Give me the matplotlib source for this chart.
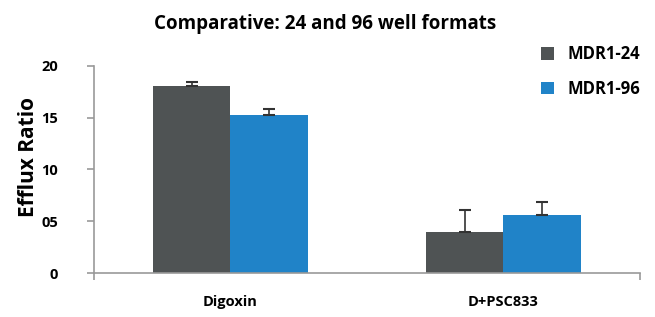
import matplotlib
matplotlib.use("Agg")
import matplotlib.pyplot as plt
import numpy as np

categories = ["Digoxin", "D+PSC833"]
series_names = ["MDR1-24", "MDR1-96"]
mdr1_24 = [18.1, 4.0]
mdr1_96 = [15.3, 5.6]
err_24 = [0.4, 2.1]
err_96 = [0.5, 1.3]
ytick_vals = [0, 5, 10, 15, 20]
ytick_labels = ["0", "05", "10", "15", "20"]

colors = ["#4f5354", "#2083c8"]
plt.rcParams['font.family'] = ['Open Sans', 'DejaVu Sans']
W = 'bold'

fig = plt.figure(figsize=(6.55, 3.17), dpi=100)
ax = fig.add_axes([0.1435, 0.1388, 0.8335, 0.653])

x = np.arange(len(categories))
w = 0.285
ax.bar(x - w/2, mdr1_24, w, color=colors[0], label=series_names[0], zorder=2)
ax.bar(x + w/2, mdr1_96, w, color=colors[1], label=series_names[1], zorder=2)
ax.errorbar(x - w/2, mdr1_24, yerr=[np.zeros(len(err_24)), err_24], fmt='none',
            ecolor='#333333', elinewidth=1.2, capsize=4, capthick=1.5, zorder=3)
ax.errorbar(x + w/2, mdr1_96, yerr=[np.zeros(len(err_96)), err_96], fmt='none',
            ecolor='#333333', elinewidth=1.2, capsize=4, capthick=1.5, zorder=3)

ax.set_xlim(-0.5, 1.5)
ax.set_ylim(0, 20)
ax.set_yticks(ytick_vals)
ax.set_yticklabels(ytick_labels, fontsize=10.5, fontweight=W)
ax.set_xticks([-0.5, 1.5])
ax.set_xticklabels([])
ax.set_xticks(x, minor=True)
ax.set_xticklabels(categories, minor=True, fontsize=10.5, fontweight=W)
ax.tick_params(axis='x', which='minor', length=0, pad=16)
ax.tick_params(axis='x', which='major', length=5, color='#999999', width=1.2)
ax.tick_params(axis='y', length=5, color='#999999', width=1.2, pad=21)

for s in ['top', 'right']:
    ax.spines[s].set_visible(False)
for s in ['left', 'bottom']:
    ax.spines[s].set_color('#999999')
    ax.spines[s].set_linewidth(1.2)

ax.set_ylabel("Efflux Ratio", fontsize=15, fontweight=W)
ax.yaxis.set_label_coords(-0.10, 0.56)
fig.text(0.497, 0.925, "Comparative: 24 and 96 well formats", ha='center', va='center',
         fontsize=13.5, fontweight=W)

fig.legend(loc='upper left', bbox_to_anchor=(0.803, 0.905), frameon=False,
           prop={'size': 12, 'weight': W}, handlelength=0.8, handleheight=0.8,
           labelspacing=1.0, handletextpad=0.8)

fig.savefig("out.png", dpi=100)
